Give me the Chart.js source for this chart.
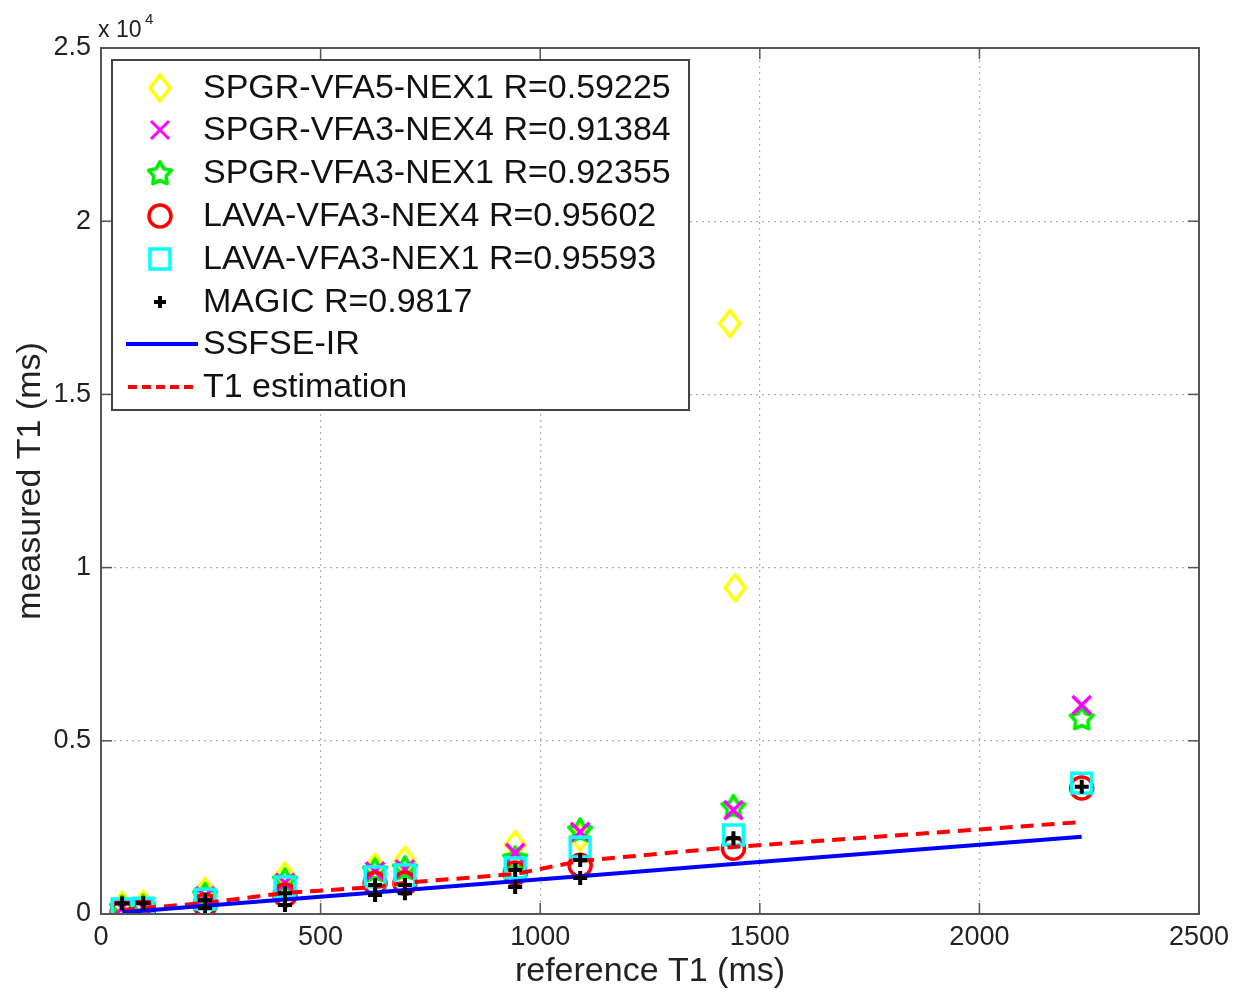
<!DOCTYPE html>
<html>
<head>
<meta charset="utf-8">
<script src="https://cdn.jsdelivr.net/npm/chart.js@4"></script>
<style>
html,body{margin:0;padding:0;background:#fff;}
#c{display:block;}
</style>
</head>
<body>
<canvas id="c" width="1245" height="994"></canvas>
<script>
// ---------- DATA ----------
const xTicks = [0, 500, 1000, 1500, 2000, 2500];
const yTicks = [0, 5000, 10000, 15000, 20000, 25000];
const yTickLabels = ["0", "0.5", "1", "1.5", "2", "2.5"];

const refT1 = [48, 96, 237, 419, 624, 692, 943, 1091, 1440, 2233];

const spgrVfa5Nex1X = [48, 96, 237, 419, 624, 692, 943, 1091, 1432, 1444];
const spgrVfa5Nex1Y = [250, 280, 650, 1100, 1350, 1550, 2000, 2220, 17050, 9420];

const spgrVfa3Nex4Y = [180, 200, 520, 900, 1230, 1290, 1760, 2370, 3000, 6030];
const spgrVfa3Nex1Y = [200, 220, 560, 980, 1270, 1330, 1615, 2425, 3100, 5660];
const lavaVfa3Nex4Y = [60, 70, 260, 550, 890, 890, 1180, 1410, 1900, 3640];
const lavaVfa3Nex1Y = [150, 170, 430, 780, 1070, 1130, 1330, 1930, 2280, 3780];

const magicX = [48, 96, 237, 419, 624, 692, 943, 1091, 1440, 2233, 237, 419, 624, 692, 943, 1091];
const magicY = [300, 310, 400, 600, 840, 840, 1270, 1560, 2190, 3670, 170, 260, 550, 600, 780, 1040];

const ssfseIrY = [48, 96, 237, 419, 624, 692, 943, 1091, 1440, 2233];
const t1EstimationY = [115, 170, 318, 606, 780, 900, 1155, 1530, 1934, 2656];

const seriesLabels = [
  "SPGR-VFA5-NEX1 R=0.59225",
  "SPGR-VFA3-NEX4 R=0.91384",
  "SPGR-VFA3-NEX1 R=0.92355",
  "LAVA-VFA3-NEX4 R=0.95602",
  "LAVA-VFA3-NEX1 R=0.95593",
  "MAGIC R=0.9817",
  "SSFSE-IR",
  "T1 estimation"
];

// ---------- helpers ----------
const pts = (xs, ys) => ys.map((y, i) => ({x: xs[i], y: y}));

function makeDiamond(color, w, h, lw) {
  const c = document.createElement('canvas');
  c.width = Math.ceil(w + lw * 2); c.height = Math.ceil(h + lw * 2);
  const g = c.getContext('2d');
  const cx = c.width / 2, cy = c.height / 2;
  g.strokeStyle = color; g.lineWidth = lw; g.lineJoin = 'miter';
  g.beginPath();
  g.moveTo(cx, cy - h / 2); g.lineTo(cx + w / 2, cy); g.lineTo(cx, cy + h / 2); g.lineTo(cx - w / 2, cy);
  g.closePath(); g.stroke();
  return c;
}
function makeStar(color, R, r, lw) {
  const s = Math.ceil(2 * R + lw * 2 + 2);
  const c = document.createElement('canvas');
  c.width = s; c.height = s;
  const g = c.getContext('2d');
  const cx = s / 2, cy = s / 2 + 1;
  g.strokeStyle = color; g.lineWidth = lw; g.lineJoin = 'round';
  g.beginPath();
  for (let i = 0; i < 10; i++) {
    const a = -Math.PI / 2 + i * Math.PI / 5;
    const rad = (i % 2) ? r : R;
    const px = cx + rad * Math.cos(a), py = cy + rad * Math.sin(a);
    if (i === 0) g.moveTo(px, py); else g.lineTo(px, py);
  }
  g.closePath(); g.stroke();
  return c;
}

const diamondImg = makeDiamond('#ffff00', 20, 26, 3.5);
const starImg = makeStar('#00ee00', 12, 6.5, 3.6);

// ---------- plugin: box, inner ticks, legend, exponent ----------
const decor = {
  id: 'decor',
  afterDatasetsDraw(chart) {
    const ctx = chart.ctx;
    const a = chart.chartArea;
    const xs = chart.scales.x, ys = chart.scales.y;
    ctx.save();
    // box
    ctx.strokeStyle = '#555'; ctx.lineWidth = 2;
    ctx.strokeRect(a.left, a.top, a.right - a.left, a.bottom - a.top);
    // inner ticks
    ctx.lineWidth = 1.5;
    xTicks.forEach(v => {
      const px = xs.getPixelForValue(v);
      ctx.beginPath(); ctx.moveTo(px, a.bottom); ctx.lineTo(px, a.bottom - 11); ctx.stroke();
      ctx.beginPath(); ctx.moveTo(px, a.top); ctx.lineTo(px, a.top + 11); ctx.stroke();
    });
    yTicks.forEach(v => {
      const py = ys.getPixelForValue(v);
      ctx.beginPath(); ctx.moveTo(a.left, py); ctx.lineTo(a.left + 11, py); ctx.stroke();
      ctx.beginPath(); ctx.moveTo(a.right, py); ctx.lineTo(a.right - 11, py); ctx.stroke();
    });

    // legend
    const L = {x: 112, y: 60, w: 577, h: 350};
    ctx.fillStyle = '#fff';
    ctx.fillRect(L.x, L.y, L.w, L.h);
    ctx.strokeStyle = '#444'; ctx.lineWidth = 2;
    ctx.strokeRect(L.x, L.y, L.w, L.h);
    const rows = [88, 130, 173, 216, 259, 302, 344, 387];
    const mx = 160, tx = 203;
    ctx.font = '34px "Liberation Sans", Arial, sans-serif';
    ctx.fillStyle = '#111'; ctx.textBaseline = 'middle'; ctx.textAlign = 'left';
    seriesLabels.forEach((t, i) => ctx.fillText(t, tx, rows[i] + 1));
    // markers
    ctx.drawImage(diamondImg, mx - diamondImg.width / 2, rows[0] - diamondImg.height / 2);
    ctx.strokeStyle = '#ff00ff'; ctx.lineWidth = 3;
    ctx.beginPath();
    ctx.moveTo(mx - 9, rows[1] - 9); ctx.lineTo(mx + 9, rows[1] + 9);
    ctx.moveTo(mx + 9, rows[1] - 9); ctx.lineTo(mx - 9, rows[1] + 9);
    ctx.stroke();
    ctx.drawImage(starImg, mx - starImg.width / 2, rows[2] - starImg.height / 2);
    ctx.strokeStyle = '#ff0000'; ctx.lineWidth = 3.5;
    ctx.beginPath(); ctx.arc(mx, rows[3], 11, 0, Math.PI * 2); ctx.stroke();
    ctx.strokeStyle = '#00ffff';
    ctx.strokeRect(mx - 10, rows[4] - 10, 20, 20);
    ctx.strokeStyle = '#000'; ctx.lineWidth = 4;
    ctx.beginPath();
    ctx.moveTo(mx - 6, rows[5]); ctx.lineTo(mx + 6, rows[5]);
    ctx.moveTo(mx, rows[5] - 6); ctx.lineTo(mx, rows[5] + 6);
    ctx.stroke();
    ctx.strokeStyle = '#0000ff'; ctx.lineWidth = 4;
    ctx.beginPath(); ctx.moveTo(126, rows[6]); ctx.lineTo(198, rows[6]); ctx.stroke();
    ctx.strokeStyle = '#ff0000'; ctx.setLineDash([9, 5]);
    ctx.beginPath(); ctx.moveTo(128, rows[7]); ctx.lineTo(198, rows[7]); ctx.stroke();
    ctx.setLineDash([]);

    // exponent label
    ctx.fillStyle = '#222'; ctx.textBaseline = 'alphabetic';
    ctx.font = '23px "Liberation Sans", Arial, sans-serif';
    ctx.fillText('x 10', 98, 37);
    ctx.font = '15px "Liberation Sans", Arial, sans-serif';
    ctx.fillText('4', 145, 24);
    ctx.restore();
  }
};

const tickFont = {family: '"Liberation Sans", Arial, sans-serif', size: 27};
const titleFont = {family: '"Liberation Sans", Arial, sans-serif', size: 34};

new Chart(document.getElementById('c'), {
  type: 'scatter',
  data: {
    datasets: [
      {label: seriesLabels[0], data: pts(spgrVfa5Nex1X, spgrVfa5Nex1Y), pointStyle: diamondImg, order: 7},
      {label: seriesLabels[1], data: pts(refT1, spgrVfa3Nex4Y), pointStyle: 'crossRot', pointRadius: 13, pointBorderWidth: 3.5, borderColor: '#ff00ff', backgroundColor: '#ff00ff', order: 5},
      {label: seriesLabels[2], data: pts(refT1, spgrVfa3Nex1Y), pointStyle: starImg, order: 6},
      {label: seriesLabels[3], data: pts(refT1, lavaVfa3Nex4Y), pointStyle: 'circle', pointRadius: 11, pointBorderWidth: 3.5, borderColor: '#ff0000', backgroundColor: 'rgba(0,0,0,0)', order: 4},
      {label: seriesLabels[4], data: pts(refT1, lavaVfa3Nex1Y), pointStyle: 'rect', pointRadius: 14, pointBorderWidth: 3.5, borderColor: '#00ffff', backgroundColor: 'rgba(0,0,0,0)', order: 3},
      {label: seriesLabels[5], data: pts(magicX, magicY), pointStyle: 'cross', pointRadius: 7, pointBorderWidth: 4, borderColor: '#000', backgroundColor: '#000', order: 1},
      {label: seriesLabels[6], type: 'line', data: pts(refT1, ssfseIrY), showLine: true, borderColor: '#0000ff', borderWidth: 4, pointRadius: 0, fill: false, tension: 0, order: 2},
      {label: seriesLabels[7], type: 'line', data: pts(refT1, t1EstimationY), showLine: true, borderColor: '#ff0000', borderWidth: 4, borderDash: [13, 8], pointRadius: 0, fill: false, tension: 0, order: 2}
    ]
  },
  options: {
    responsive: false,
    animation: false,
    events: [],
    layout: {padding: {left: 0, top: 48, right: 46, bottom: 0}},
    plugins: {legend: {display: false}, tooltip: {enabled: false}},
    scales: {
      x: {
        type: 'linear', min: 0, max: 2500,
        afterFit: s => { s.height = 80; },
        afterBuildTicks: s => { s.ticks = xTicks.map(v => ({value: v})); },
        ticks: {font: tickFont, color: '#222', padding: 7, maxRotation: 0, callback: v => String(v)},
        grid: {color: '#b0b0b0', lineWidth: 1.2, drawTicks: false},
        border: {display: true, color: '#555', width: 2, dash: [2, 4]},
        title: {display: true, text: 'reference T1 (ms)', font: titleFont, color: '#222', padding: {top: 0, bottom: 2}}
      },
      y: {
        type: 'linear', min: 0, max: 25000,
        afterFit: s => { s.width = 101; },
        afterBuildTicks: s => { s.ticks = yTicks.map(v => ({value: v})); },
        ticks: {font: tickFont, color: '#222', padding: 10,
          callback: (v) => { const i = yTicks.indexOf(v); return i >= 0 ? yTickLabels[i] : ''; }},
        grid: {color: '#b0b0b0', lineWidth: 1.2, drawTicks: false},
        border: {display: true, color: '#555', width: 2, dash: [2, 4]},
        title: {display: true, text: 'measured T1 (ms)', font: titleFont, color: '#222', padding: {top: 10, bottom: 0}}
      }
    }
  },
  plugins: [decor]
});
</script>
</body>
</html>
